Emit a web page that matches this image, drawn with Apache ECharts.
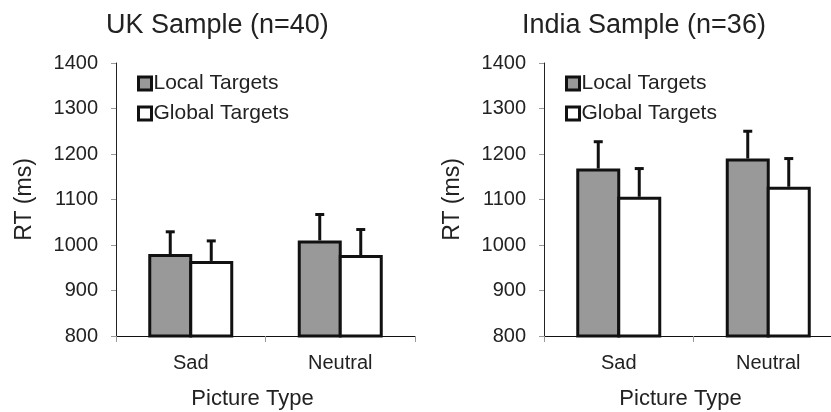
<!DOCTYPE html>
<html>
<head>
<meta charset="utf-8">
<script src="https://cdn.jsdelivr.net/npm/echarts@6/dist/echarts.min.js"></script>
<style>
html,body{margin:0;padding:0;background:#fff;}
#chart{width:831px;height:412px;}
</style>
</head>
<body>
<div id="chart"></div>
<script>
var categories = ['Sad', 'Neutral'];
var seriesNames = ['Local Targets', 'Global Targets'];
var panelTitles = ['UK Sample (n=40)', 'India Sample (n=36)'];
var yTicks = [800, 900, 1000, 1100, 1200, 1300, 1400];

var ukLocal = [980, 1010];
var ukGlobal = [965, 978];
var ukLocalErr = [49, 57];
var ukGlobalErr = [44, 56];

var indiaLocal = [1168, 1190];
var indiaGlobal = [1106, 1128];
var indiaLocalErr = [59, 60];
var indiaGlobalErr = [62, 62];

var FONT = '"Liberation Sans", Arial, sans-serif';
var TXT = '#222';
var BAR_W = 44;
var OVERLAP = 3;

function errData(vals, errs) {
  return vals.map(function (v, i) { return [i, v, errs[i]]; });
}

function errRender(offset) {
  return function (params, api) {
    var c = api.value(0), v = api.value(1), e = api.value(2);
    var p0 = api.coord([c, v]);
    var p1 = api.coord([c, v + e]);
    var x = p0[0] + offset;
    return {
      type: 'group',
      children: [
        { type: 'line', shape: { x1: x, y1: p0[1], x2: x, y2: p1[1] }, style: { stroke: '#111', lineWidth: 3 } },
        { type: 'line', shape: { x1: x - 4.5, y1: p1[1], x2: x + 4.5, y2: p1[1] }, style: { stroke: '#111', lineWidth: 3 } }
      ]
    };
  };
}

var panels = [
  { local: ukLocal, global: ukGlobal, localErr: ukLocalErr, globalErr: ukGlobalErr, gridLeft: 116, titleLeft: 106 },
  { local: indiaLocal, global: indiaGlobal, localErr: indiaLocalErr, globalErr: indiaGlobalErr, gridLeft: 544, titleLeft: 522 }
];

var option = {
  backgroundColor: '#fff',
  animation: false,
  title: [],
  legend: [],
  grid: [],
  xAxis: [],
  yAxis: [],
  series: []
};

var halfOff = (BAR_W - OVERLAP) / 2;

panels.forEach(function (p, k) {
  option.title.push({
    text: panelTitles[k], left: p.titleLeft, top: 12, padding: 0,
    textStyle: { fontFamily: FONT, fontSize: 27, fontWeight: 'normal', color: TXT }
  });
  option.grid.push({
    left: p.gridLeft, top: 63, width: 299, height: 273,
    containLabel: false, outerBoundsMode: 'none'
  });
  option.legend.push({
    data: seriesNames, orient: 'vertical', left: p.gridLeft + 21, top: 73, padding: 0,
    icon: 'rect', itemWidth: 13, itemHeight: 13, itemGap: 9, selectedMode: false,
    itemStyle: { borderColor: '#111', borderWidth: 3 },
    textStyle: { fontFamily: FONT, fontSize: 21, color: TXT, padding: [0, 0, 0, -3] }
  });
  option.xAxis.push({
    type: 'category', gridIndex: k, data: categories,
    name: 'Picture Type', nameLocation: 'middle', nameGap: 52,
    nameTextStyle: { fontFamily: FONT, fontSize: 22, color: TXT, padding: [0, 26, 0, 0] },
    axisLine: { show: true, lineStyle: { color: '#111', width: 1 } },
    axisTick: { show: true, length: 6, lineStyle: { color: '#999' } },
    axisLabel: { fontFamily: FONT, fontSize: 20, color: TXT, margin: 17 },
    splitLine: { show: false }
  });
  option.yAxis.push({
    type: 'value', gridIndex: k, min: yTicks[0], max: yTicks[yTicks.length - 1], interval: 100,
    name: 'RT (ms)', nameLocation: 'middle', nameGap: 80, nameRotate: 90,
    nameTextStyle: { fontFamily: FONT, fontSize: 23, color: TXT },
    axisLine: { show: true, lineStyle: { color: '#222', width: 1 } },
    axisTick: { show: true, inside: false, length: 5, lineStyle: { color: '#999' } },
    axisLabel: { fontFamily: FONT, fontSize: 20, color: TXT, margin: 18, formatter: function (v) { return String(v); } },
    splitLine: { show: false }
  });
  option.series.push({
    name: seriesNames[0], type: 'bar', xAxisIndex: k, yAxisIndex: k, data: p.local,
    barWidth: BAR_W, barGap: (-OVERLAP / BAR_W * 100) + '%', z: 3,
    itemStyle: { color: '#999999', borderColor: '#111', borderWidth: 3 }
  });
  option.series.push({
    name: seriesNames[1], type: 'bar', xAxisIndex: k, yAxisIndex: k, data: p.global,
    barWidth: BAR_W, barGap: (-OVERLAP / BAR_W * 100) + '%', z: 3,
    itemStyle: { color: '#ffffff', borderColor: '#111', borderWidth: 3 }
  });
  option.series.push({
    name: 'errLocal' + k, type: 'custom', xAxisIndex: k, yAxisIndex: k, z: 2,
    data: errData(p.local, p.localErr), renderItem: errRender(-halfOff),
    encode: { x: 0, y: [1] }
  });
  option.series.push({
    name: 'errGlobal' + k, type: 'custom', xAxisIndex: k, yAxisIndex: k, z: 2,
    data: errData(p.global, p.globalErr), renderItem: errRender(halfOff),
    encode: { x: 0, y: [1] }
  });
});

var chart = echarts.init(document.getElementById('chart'), null, { renderer: 'canvas' });
chart.setOption(option);
</script>
</body>
</html>
